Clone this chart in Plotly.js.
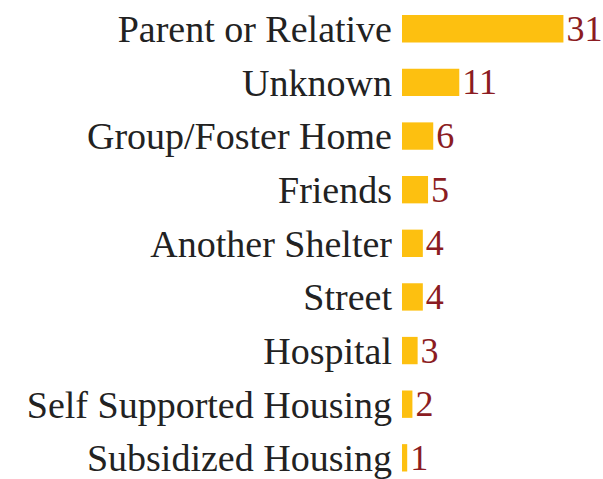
<!DOCTYPE html>
<html>
<head>
<meta charset="utf-8">
<script src="https://cdn.plot.ly/plotly-3.0.1.min.js"></script>
<style>html,body{margin:0;padding:0;background:#fff;}#chart{width:603px;height:479px;}</style>
</head>
<body>
<div id="chart"></div>
<script>
const categories = ["Parent or Relative", "Unknown", "Group/Foster Home", "Friends", "Another Shelter", "Street", "Hospital", "Self Supported Housing", "Subsidized Housing"];
const values = [31, 11, 6, 5, 4, 4, 3, 2, 1];

const trace = {
  type: 'bar',
  orientation: 'h',
  y: categories,
  x: values,
  text: values.map(String),
  textposition: 'outside',
  constraintext: 'none',
  cliponaxis: false,
  textfont: {family: 'Liberation Serif, serif', size: 36, color: '#8B1C22'},
  marker: {color: '#FDC010'},
  hoverinfo: 'none'
};

const layout = {
  width: 603,
  height: 479,
  margin: {l: 402, r: 0, t: 0, b: 0},
  paper_bgcolor: '#fff',
  plot_bgcolor: '#fff',
  bargap: 0.49,
  showlegend: false,
  xaxis: {range: [0, 38.6], visible: false, fixedrange: true},
  yaxis: {
    type: 'category',
    range: [8.395, -0.537],
    showgrid: false, zeroline: false, showline: false,
    ticks: '',
    ticklabelstandoff: 9,
    tickfont: {family: 'Liberation Serif, serif', size: 38, color: '#222222'},
    fixedrange: true
  }
};

Plotly.newPlot('chart', [trace], layout, {staticPlot: true, displayModeBar: false});
</script>
</body>
</html>
